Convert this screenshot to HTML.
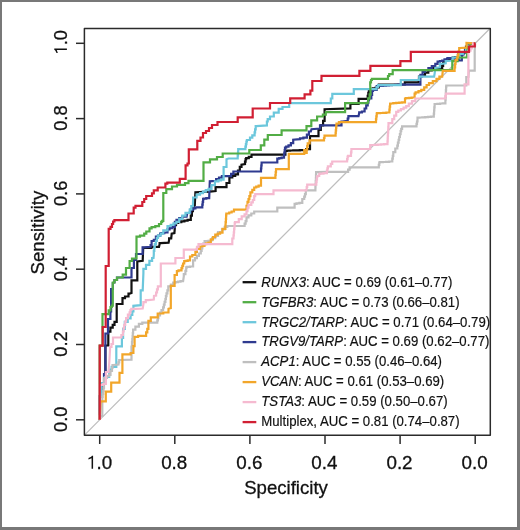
<!DOCTYPE html>
<html><head><meta charset="utf-8"><style>
html,body{margin:0;padding:0;background:#fff;}
#f{position:absolute;left:0;top:0;width:520px;height:530px;box-sizing:border-box;border-style:solid;border-color:#787878;border-width:2px 3px 3px 2px;background:#fff;}
svg{position:absolute;left:0;top:0;filter:blur(0.35px);}
.tk{font-family:"Liberation Sans",sans-serif;font-size:19px;fill:#111;stroke:#111;stroke-width:0.3px;}
.lg{font-family:"Liberation Sans",sans-serif;font-size:14.6px;fill:#111;stroke:#111;stroke-width:0.2px;}
</style></head><body><div id="f"></div>
<svg width="520" height="530" viewBox="0 0 520 530">
<line x1="84.67999999999995" y1="434.86" x2="490.21999999999997" y2="28.24000000000001" stroke="#bdbdbd" stroke-width="1.25"/>
<path d="M99.7,419.8 L99.7,396.0 L101.4,396.0 L101.4,383.0 L105.4,383.0 L105.4,345.5 L108.3,345.5 L108.3,331.7 L110.4,331.7 L110.4,327.7 L112.7,327.7 L112.7,324.8 L114.5,324.8 L114.5,321.9 L116.7,321.9 L116.7,304.0 L122.5,304.0 L122.5,300.0 L122.5,298.2 L125.0,298.2 L125.0,296.5 L128.5,296.5 L128.5,293.6 L129.6,293.6 L131.5,293.0 L131.5,280.4 L137.3,280.3 L137.3,261.4 L142.7,260.8 L143.2,247.9 L151.6,247.9 L152.2,246.8 L159.0,246.8 L159.6,244.2 L159.6,243.1 L160.6,243.1 L168.6,242.6 L169.1,239.9 L169.1,238.3 L171.2,238.3 L171.7,233.6 L174.4,233.0 L174.9,227.2 L174.9,225.1 L176.0,225.1 L176.0,223.0 L178.1,223.0 L178.1,222.2 L181.3,222.2 L181.3,221.4 L184.4,221.4 L184.4,220.6 L187.6,220.6 L187.6,219.8 L190.8,219.8 L190.8,215.6 L191.9,215.6 L191.9,214.2 L191.9,211.1 L192.9,211.1 L192.9,208.1 L193.8,208.1 L193.8,205.0 L194.8,205.0 L195.4,192.3 L209.8,191.7 L215.6,191.1 L215.6,187.1 L226.5,187.1 L226.5,183.0 L229.4,183.0 L229.4,179.6 L229.4,177.3 L232.3,177.3 L232.3,175.9 L235.2,175.9 L235.2,174.4 L238.0,174.4 L238.0,170.7 L239.8,170.7 L239.8,166.9 L241.5,166.9 L241.5,164.6 L245.0,164.0 L245.0,161.6 L245.6,161.6 L245.6,159.2 L246.2,159.2 L246.2,158.1 L248.8,158.1 L248.8,156.9 L251.5,156.9 L251.5,154.6 L253.3,154.6 L285.4,154.6 L285.4,150.8 L286.9,150.8 L286.9,150.7 L290.1,150.7 L290.1,150.5 L293.3,150.5 L293.3,150.4 L296.5,150.4 L296.5,150.3 L299.8,150.3 L299.8,150.1 L303.0,150.1 L303.0,150.0 L306.2,150.0 L306.2,149.2 L310.0,149.2 L310.0,136.2 L318.5,136.2 L318.5,130.0 L320.8,130.0 L320.8,125.4 L323.1,125.4 L323.1,120.8 L324.6,120.8 L324.6,109.2 L350.4,108.4 L350.4,104.0 L358.6,104.0 L358.6,98.8 L367.7,98.8 L367.7,95.9 L368.3,95.9 L368.3,92.9 L368.9,92.9 L368.9,90.0 L369.5,90.0 L369.5,89.2 L372.6,89.2 L372.6,88.3 L375.7,88.3 L375.7,87.5 L378.8,87.5 L378.8,84.5 L380.0,84.5 L404.8,84.5 L404.8,82.3 L418.6,82.3 L419.0,78.0 L419.0,76.5 L422.0,76.5 L422.0,75.0 L425.0,75.0 L425.0,72.7 L428.3,72.7 L428.3,70.3 L431.7,70.3 L431.7,68.0 L435.0,68.0 L442.2,68.5 L442.2,65.8 L443.1,65.8 L443.1,63.0 L444.0,63.0 L444.0,61.0 L447.0,61.0 L447.0,59.0 L450.0,59.0 L450.0,58.3 L452.7,58.3 L452.7,57.7 L455.3,57.7 L455.3,57.0 L458.0,57.0 L458.0,54.7 L461.6,54.7 L461.6,52.4 L465.3,52.4 L466.0,48.0 L466.0,46.6 L468.8,46.6 L468.8,45.0 L472.0,45.0 L472.0,43.3 L475.2,43.3" fill="none" stroke="#111111" stroke-width="2.2" stroke-linejoin="miter" stroke-linecap="butt"/>
<path d="M99.7,419.8 L99.7,396.5 L101.4,396.5 L101.4,383.5 L104.0,383.5 L104.0,374.0 L105.4,374.0 L105.4,333.5 L108.0,333.5 L108.0,319.0 L110.4,319.0 L110.4,311.5 L111.1,311.5 L111.1,291.3 L111.1,289.0 L112.8,289.0 L112.8,283.0 L114.5,282.5 L114.5,280.0 L117.0,280.0 L117.0,277.5 L123.8,277.5 L131.5,277.5 L131.5,268.0 L133.9,268.0 L133.9,260.8 L133.9,260.0 L136.0,260.0 L136.0,254.0 L142.6,254.0 L142.6,248.4 L142.6,247.3 L144.2,247.3 L150.6,246.8 L150.6,245.2 L151.6,245.2 L151.6,241.0 L153.8,241.0 L153.8,239.9 L155.9,239.9 L155.9,236.7 L158.0,236.7 L158.0,235.7 L160.1,235.7 L160.1,233.6 L161.2,233.6 L161.2,233.1 L164.3,233.1 L164.3,232.5 L167.5,232.5 L167.5,229.3 L169.6,229.3 L169.6,228.2 L172.2,228.2 L172.2,227.2 L174.9,227.2 L174.9,223.5 L174.9,221.9 L176.5,221.9 L176.5,219.8 L179.2,219.8 L179.2,218.2 L182.3,218.2 L182.3,216.6 L186.6,216.6 L187.3,213.1 L190.5,212.5 L190.5,209.6 L193.1,209.6 L193.1,208.4 L195.4,208.4 L195.4,207.3 L197.7,207.3 L202.3,207.3 L202.3,204.6 L202.7,204.6 L202.7,201.9 L203.1,201.9 L203.1,199.2 L203.5,199.2 L203.5,198.6 L206.3,198.6 L206.3,198.1 L209.2,198.1 L209.8,181.3 L216.1,180.8 L216.1,179.2 L219.0,179.2 L219.0,177.7 L221.9,177.7 L221.9,176.1 L224.8,176.1 L231.1,176.1 L231.1,173.8 L233.4,173.8 L233.4,171.5 L235.7,171.5 L261.0,171.5 L261.0,168.5 L261.3,168.5 L261.3,165.5 L261.6,165.5 L261.6,162.5 L261.9,162.5 L277.3,162.5 L277.3,158.7 L279.2,158.7 L279.2,158.2 L281.6,158.2 L281.6,157.7 L284.0,157.7 L284.0,155.1 L284.3,155.1 L284.3,152.6 L284.7,152.6 L284.7,150.0 L285.0,150.0 L285.0,147.7 L286.2,147.7 L286.2,146.6 L288.5,146.6 L288.5,145.4 L290.9,145.4 L290.9,143.1 L293.2,143.1 L293.2,139.7 L300.0,139.2 L300.0,138.4 L303.4,138.4 L303.4,137.7 L306.9,137.7 L306.9,134.6 L308.9,134.6 L308.9,131.5 L310.8,131.5 L311.5,129.2 L320.0,128.5 L320.0,125.4 L320.8,125.4 L341.5,125.4 L341.5,121.5 L342.3,121.5 L347.7,120.8 L347.7,118.5 L348.4,118.5 L348.4,116.2 L349.2,116.2 L358.5,116.2 L359.2,113.1 L359.2,112.3 L361.9,112.3 L361.9,111.5 L364.6,111.5 L364.6,108.5 L366.2,108.5 L366.2,105.4 L367.7,105.4 L367.7,102.7 L368.4,102.7 L368.4,100.0 L369.0,100.0 L369.0,98.5 L371.3,98.5 L371.3,94.8 L372.1,94.8 L372.1,91.0 L373.0,91.0 L373.0,89.8 L376.7,89.8 L376.7,86.0 L380.0,86.0 L380.0,85.8 L383.0,85.8 L383.0,85.6 L385.9,85.6 L385.9,85.4 L388.9,85.4 L388.9,85.2 L391.9,85.2 L391.9,85.0 L394.9,85.0 L394.9,84.8 L397.8,84.8 L397.8,84.6 L400.8,84.6 L420.4,84.6 L420.4,77.7 L420.4,74.8 L422.6,74.8 L422.6,72.0 L424.9,72.0 L424.9,70.1 L428.4,70.1 L428.4,68.1 L431.8,68.1 L431.8,66.2 L435.3,66.2 L435.3,63.9 L437.6,63.9 L437.6,61.6 L439.9,61.6 L439.9,61.0 L442.2,61.0 L442.2,60.5 L444.5,60.5 L444.5,59.3 L447.4,59.3 L447.4,58.1 L450.3,58.1 L455.0,58.0 L455.0,59.2 L458.4,59.2 L458.4,60.5 L461.8,60.5 L462.0,57.0 L462.0,54.5 L463.5,54.5 L463.5,52.0 L465.0,52.0 L465.0,48.0 L468.0,48.0 L468.0,45.6 L471.6,45.6 L471.6,43.3 L475.2,43.3" fill="none" stroke="#2f3a8f" stroke-width="2.2" stroke-linejoin="miter" stroke-linecap="butt"/>
<path d="M99.7,419.8 L99.7,396.0 L101.4,396.0 L101.4,383.0 L104.8,383.0 L104.8,378.0 L104.8,377.0 L109.2,377.0 L109.2,369.6 L111.6,369.6 L111.6,366.8 L116.3,366.8 L116.3,346.3 L121.9,346.3 L121.9,338.0 L123.1,338.0 L123.1,328.8 L124.8,328.8 L124.8,321.9 L127.7,321.9 L127.7,318.5 L130.6,318.5 L130.6,315.0 L132.3,315.0 L132.3,311.5 L133.4,311.5 L133.4,305.8 L140.7,305.2 L140.7,293.0 L140.7,290.4 L142.7,290.4 L143.4,273.0 L143.4,268.8 L146.0,268.8 L146.0,264.8 L149.4,264.8 L149.4,260.8 L152.1,260.8 L152.1,258.0 L153.5,258.0 L153.8,254.7 L153.8,251.0 L154.3,251.0 L154.3,247.3 L154.8,247.3 L154.8,244.1 L155.9,244.1 L155.9,241.0 L156.9,241.0 L156.9,237.8 L158.0,237.8 L158.0,235.7 L160.7,235.7 L160.7,233.6 L163.3,233.6 L163.3,230.4 L167.5,230.4 L167.5,226.2 L170.7,226.2 L170.7,224.8 L173.5,224.8 L173.5,223.3 L176.4,223.3 L176.4,221.9 L179.2,221.9 L179.2,218.8 L182.3,218.8 L182.3,215.6 L185.5,215.6 L185.5,212.9 L189.7,212.9 L189.7,209.5 L191.3,209.5 L191.3,206.1 L192.9,206.1 L193.1,200.4 L193.1,197.5 L196.6,197.5 L196.6,194.6 L200.0,194.6 L200.0,193.2 L202.9,193.2 L202.9,191.7 L205.8,191.7 L205.8,190.2 L208.6,190.2 L208.6,188.8 L211.5,188.8 L211.5,185.1 L214.9,185.1 L214.9,181.3 L218.4,181.3 L218.4,180.4 L221.0,180.4 L221.0,179.6 L223.6,179.6 L223.6,167.0 L226.5,167.0 L226.5,159.2 L228.5,158.5 L237.7,158.5 L237.7,155.4 L238.0,155.4 L238.0,152.3 L238.2,152.3 L238.2,149.2 L238.5,149.2 L245.4,149.2 L245.4,146.6 L245.9,146.6 L245.9,144.1 L246.4,144.1 L246.4,141.5 L246.9,141.5 L246.9,140.0 L250.0,140.0 L250.0,137.7 L252.3,137.7 L252.3,135.4 L254.6,135.4 L254.6,132.3 L255.1,132.3 L255.1,129.3 L255.7,129.3 L255.7,126.2 L256.2,126.2 L266.9,125.4 L266.9,121.5 L267.7,121.5 L267.7,119.2 L270.0,119.2 L270.0,116.5 L273.8,116.5 L273.8,112.7 L278.7,112.7 L278.7,108.8 L282.5,108.8 L282.5,107.0 L289.2,107.0 L289.2,103.1 L330.8,103.1 L330.8,98.5 L332.3,98.5 L332.3,93.8 L353.8,93.8 L353.8,89.2 L376.5,89.2 L376.5,87.0 L378.0,87.0 L378.0,85.2 L380.0,85.2 L400.8,85.2 L400.8,80.0 L419.2,80.0 L419.2,77.7 L419.2,76.6 L420.4,76.6 L434.1,76.6 L434.7,73.1 L435.3,68.0 L439.9,67.4 L439.9,63.9 L441.1,63.9 L445.7,63.3 L445.7,61.0 L448.0,61.0 L452.6,60.5 L452.6,57.6 L453.8,57.6 L458.4,57.0 L458.4,55.8 L459.5,55.8 L459.5,53.9 L462.8,53.9 L462.8,52.0 L466.0,52.0 L466.0,48.0 L468.0,48.0 L468.0,45.6 L471.6,45.6 L471.6,43.3 L475.2,43.3" fill="none" stroke="#6cc7dc" stroke-width="2.2" stroke-linejoin="miter" stroke-linecap="butt"/>
<path d="M99.7,419.8 L99.7,345.6 L102.5,345.6 L102.5,314.2 L106.7,314.2 L108.7,314.2 L108.7,310.4 L110.5,310.4 L110.5,307.0 L111.8,307.0 L111.8,305.6 L112.8,305.6 L112.8,282.5 L114.5,282.5 L114.5,280.0 L117.0,280.0 L117.0,277.5 L122.7,277.5 L122.7,274.6 L126.0,274.6 L126.0,268.0 L129.6,268.0 L129.6,261.0 L132.0,261.0 L132.0,258.5 L136.5,258.5 L136.5,241.0 L136.5,236.7 L140.0,236.7 L140.0,235.7 L144.2,235.7 L144.2,233.6 L146.3,233.6 L146.3,231.5 L149.5,231.5 L149.5,228.3 L151.6,228.3 L151.6,227.2 L155.3,227.2 L155.3,226.2 L159.0,226.2 L159.0,224.0 L161.2,224.0 L161.2,221.9 L162.2,221.9 L162.2,220.9 L163.3,220.9 L163.3,193.0 L166.3,193.0 L166.3,189.2 L172.0,189.2 L172.0,186.5 L177.0,186.5 L177.0,184.8 L185.0,184.8 L185.0,183.1 L188.5,183.1 L188.5,180.8 L203.5,180.8 L203.5,162.3 L210.0,162.3 L210.0,159.3 L217.0,159.3 L217.0,157.0 L222.7,157.0 L222.7,153.5 L249.3,153.5 L249.3,150.0 L260.8,150.0 L260.8,145.4 L264.3,145.4 L264.3,139.7 L267.8,139.7 L267.8,135.0 L281.6,135.0 L281.6,130.4 L306.5,130.4 L306.5,126.2 L311.3,126.2 L311.3,120.4 L317.1,120.4 L317.1,116.5 L322.9,116.5 L322.9,114.6 L325.8,114.6 L325.8,112.2 L345.1,112.2 L345.1,103.1 L367.7,103.1 L368.2,101.6 L368.2,98.3 L369.6,98.3 L369.6,94.4 L370.6,94.4 L370.2,84.6 L370.2,82.3 L371.0,82.3 L371.0,80.0 L371.9,80.0 L371.9,78.8 L373.0,78.8 L388.0,78.8 L388.0,76.0 L389.2,76.0 L389.2,74.2 L392.7,74.2 L392.7,70.2 L393.8,70.2 L452.3,70.2 L452.3,61.2 L457.7,61.2 L457.7,57.5 L467.0,57.5 L467.0,53.5 L467.6,48.9 L467.6,47.0 L470.0,47.0 L470.0,45.1 L472.6,45.1 L472.6,43.3 L475.2,43.3" fill="none" stroke="#52ad45" stroke-width="2.2" stroke-linejoin="miter" stroke-linecap="butt"/>
<path d="M99.7,419.8 L99.7,416.0 L102.3,416.0 L102.3,400.0 L102.3,397.0 L102.7,397.0 L102.7,394.0 L103.2,394.0 L103.2,391.0 L103.6,391.0 L103.6,388.0 L104.0,388.0 L104.0,380.0 L104.0,378.0 L107.0,378.0 L107.0,376.0 L109.0,376.0 L109.0,375.0 L110.5,375.0 L110.5,371.0 L112.0,371.0 L112.0,368.0 L112.5,368.0 L112.5,365.0 L113.0,365.0 L118.5,364.6 L118.5,362.3 L119.2,362.3 L119.2,360.0 L119.9,360.0 L131.5,359.6 L131.5,346.5 L132.0,345.0 L132.0,342.0 L132.3,342.0 L132.3,339.1 L132.6,339.1 L132.6,336.1 L132.8,336.1 L132.8,333.1 L133.1,333.1 L133.1,329.6 L135.4,329.6 L135.4,326.7 L138.9,326.7 L138.9,323.8 L142.3,323.8 L142.3,322.7 L145.8,322.7 L157.3,322.7 L157.3,320.4 L157.9,320.4 L157.9,318.1 L158.4,318.1 L158.4,315.4 L160.0,315.4 L160.0,312.7 L161.5,312.7 L161.5,310.0 L163.1,310.0 L163.1,307.3 L163.9,307.3 L163.9,304.6 L164.6,304.6 L164.6,301.9 L165.4,301.9 L165.4,299.0 L165.9,299.0 L165.9,296.2 L166.5,296.2 L166.5,293.3 L167.4,293.3 L167.4,290.4 L168.3,290.4 L168.3,286.3 L170.9,286.3 L170.9,284.5 L173.2,284.5 L173.2,282.7 L175.4,282.7 L175.4,282.2 L178.0,282.2 L178.0,281.7 L180.5,281.7 L180.5,281.2 L183.1,281.2 L183.8,276.5 L183.8,274.2 L185.4,274.2 L185.4,270.8 L186.2,270.8 L186.2,267.3 L186.9,267.3 L186.9,266.9 L190.0,266.9 L190.0,266.5 L193.1,266.5 L193.1,262.7 L193.1,260.4 L195.0,260.4 L195.0,258.1 L196.9,258.1 L196.9,255.8 L198.9,255.8 L198.9,253.5 L200.8,253.5 L200.8,250.9 L201.6,250.9 L201.6,248.4 L202.3,248.4 L202.3,245.8 L203.1,245.8 L203.1,243.5 L204.6,243.5 L204.6,241.2 L206.2,241.2 L212.3,240.4 L212.3,238.2 L215.2,238.2 L215.2,236.0 L218.0,236.0 L218.0,232.0 L222.0,232.0 L222.0,229.4 L224.7,229.4 L224.7,226.9 L227.3,226.9 L227.3,226.0 L229.2,226.0 L244.6,226.0 L244.6,223.6 L245.6,223.6 L245.6,221.2 L246.5,221.2 L246.5,217.3 L248.5,217.3 L248.5,215.4 L251.3,215.4 L251.3,213.5 L254.2,213.5 L254.2,211.5 L256.2,211.5 L277.3,211.5 L277.3,207.7 L279.2,207.7 L294.6,207.7 L294.6,203.8 L296.5,203.8 L296.5,203.4 L299.4,203.4 L299.4,202.9 L302.3,202.9 L302.3,199.0 L304.2,199.0 L304.2,196.6 L305.0,196.6 L305.0,194.2 L305.8,194.2 L305.8,190.4 L306.7,190.4 L315.4,190.4 L315.4,187.3 L315.5,187.3 L315.5,184.3 L315.7,184.3 L315.7,181.2 L315.9,181.2 L315.9,178.2 L316.0,178.2 L316.0,175.2 L316.1,175.2 L316.1,172.1 L316.3,172.1 L326.9,171.8 L348.1,171.8 L348.1,169.6 L349.6,169.6 L349.6,167.3 L351.0,167.3 L378.8,167.3 L378.8,164.9 L379.3,164.9 L379.3,162.5 L379.8,162.5 L379.8,162.2 L382.9,162.2 L382.9,162.0 L386.1,162.0 L386.1,161.8 L389.2,161.8 L389.2,161.5 L392.3,161.5 L392.3,158.7 L392.8,158.7 L392.8,155.8 L393.3,155.8 L393.3,152.2 L395.3,152.2 L395.3,148.5 L397.3,148.5 L397.3,145.6 L397.9,145.6 L397.9,142.7 L398.6,142.7 L398.6,139.8 L399.2,139.8 L399.2,137.0 L399.9,137.0 L399.9,134.1 L400.6,134.1 L400.6,131.2 L401.2,131.2 L401.2,128.8 L402.1,128.8 L402.1,126.3 L403.1,126.3 L416.5,126.3 L416.5,123.9 L417.0,123.9 L417.0,121.5 L417.5,121.5 L417.5,117.7 L419.4,117.7 L419.4,117.5 L422.3,117.5 L422.3,117.3 L425.2,117.3 L425.2,117.1 L428.0,117.1 L428.0,116.9 L430.9,116.9 L430.9,116.7 L433.8,116.7 L433.8,113.6 L434.1,113.6 L434.1,110.5 L434.3,110.5 L434.3,107.3 L434.6,107.3 L434.6,104.2 L434.8,104.2 L434.8,104.0 L437.4,104.0 L437.4,103.8 L440.1,103.8 L440.1,103.5 L442.8,103.5 L442.8,103.3 L445.4,103.3 L445.4,100.0 L445.6,100.0 L445.6,96.7 L445.8,96.7 L445.8,93.5 L445.9,93.5 L445.9,90.2 L446.1,90.2 L446.1,86.9 L446.3,86.9 L446.3,85.5 L449.2,85.5 L466.3,85.5 L466.3,79.2 L466.3,77.0 L468.4,77.0 L468.9,70.7 L474.7,70.7 L474.7,50.6 L475.2,43.3" fill="none" stroke="#bfbfbf" stroke-width="2.2" stroke-linejoin="miter" stroke-linecap="butt"/>
<path d="M99.7,419.8 L100.5,401.4 L105.8,401.4 L105.8,391.6 L111.2,391.6 L111.2,382.7 L119.5,382.7 L119.5,372.9 L122.4,372.9 L122.4,354.3 L130.6,354.3 L130.6,353.0 L133.4,353.0 L133.4,346.1 L134.6,346.1 L134.6,336.9 L138.1,336.9 L138.1,335.8 L146.1,335.8 L146.1,332.3 L147.3,332.3 L147.3,328.8 L148.4,328.8 L148.4,320.8 L150.8,320.8 L150.8,317.3 L157.7,317.3 L157.7,313.5 L163.3,313.5 L163.3,312.5 L168.5,312.5 L168.5,308.8 L170.8,308.1 L170.8,287.3 L170.8,285.8 L174.6,285.8 L174.6,276.5 L174.6,275.0 L176.9,275.0 L176.9,271.2 L178.5,271.2 L178.5,270.4 L181.5,270.4 L181.5,268.1 L182.3,268.1 L182.3,265.8 L183.1,265.8 L183.1,263.5 L184.2,263.5 L184.2,261.2 L185.4,261.2 L185.4,260.8 L187.7,260.8 L187.7,260.4 L190.0,260.4 L190.0,256.5 L192.3,256.5 L192.3,255.0 L195.4,255.0 L195.4,251.9 L196.9,251.9 L196.9,248.8 L200.0,248.8 L200.0,246.5 L201.5,246.5 L204.6,245.8 L204.6,244.2 L206.2,244.2 L206.2,243.4 L208.5,243.4 L208.5,242.7 L210.8,242.7 L210.8,239.4 L212.9,239.4 L212.9,237.0 L215.3,237.0 L215.3,234.6 L217.7,234.6 L217.7,233.6 L220.1,233.6 L220.1,232.7 L222.5,232.7 L222.5,228.8 L225.4,228.8 L225.4,225.5 L225.6,225.5 L225.6,222.1 L225.9,222.1 L225.9,218.8 L226.1,218.8 L226.1,215.4 L226.3,215.4 L226.3,213.5 L229.2,213.5 L229.2,212.5 L231.6,212.5 L231.6,211.5 L234.0,211.5 L234.0,209.6 L235.0,209.6 L246.5,209.6 L246.5,205.8 L247.5,205.8 L247.5,201.9 L248.5,201.9 L248.5,199.1 L249.4,199.1 L249.4,196.2 L250.4,196.2 L250.4,192.3 L252.3,192.3 L252.3,189.9 L254.2,189.9 L254.2,187.5 L256.2,187.5 L256.2,186.6 L258.6,186.6 L258.6,185.6 L261.0,185.6 L261.0,178.8 L261.0,177.9 L264.8,177.9 L275.4,177.9 L275.4,175.0 L275.7,175.0 L275.7,172.1 L276.0,172.1 L276.0,169.2 L276.3,169.2 L288.8,169.2 L288.8,153.8 L304.2,153.8 L304.2,150.0 L305.2,150.0 L305.2,152.9 L306.7,152.9 L306.7,149.6 L307.2,149.6 L307.2,146.2 L307.7,146.2 L307.7,143.3 L309.6,143.3 L309.6,140.4 L311.5,140.4 L324.0,140.4 L324.0,138.0 L324.5,138.0 L324.5,135.6 L325.0,135.6 L335.6,135.6 L335.6,132.9 L335.8,132.9 L335.8,130.3 L336.1,130.3 L336.1,127.7 L336.3,127.7 L336.3,125.0 L336.5,125.0 L336.5,123.5 L338.9,123.5 L338.9,122.1 L341.3,122.1 L376.0,122.1 L376.0,119.2 L376.3,119.2 L376.3,116.4 L376.7,116.4 L376.7,113.5 L377.0,113.5 L377.0,113.2 L380.1,113.2 L380.1,113.0 L383.2,113.0 L383.2,112.8 L386.3,112.8 L386.3,112.5 L389.4,112.5 L389.4,109.6 L389.7,109.6 L389.7,106.7 L390.1,106.7 L390.1,103.8 L390.4,103.8 L390.4,103.5 L393.3,103.5 L393.3,103.2 L396.2,103.2 L396.2,102.9 L399.2,102.9 L399.2,102.6 L402.1,102.6 L402.1,102.3 L405.0,102.3 L405.0,98.5 L406.0,98.5 L406.0,98.2 L408.9,98.2 L408.9,97.8 L411.7,97.8 L411.7,97.5 L414.6,97.5 L414.6,93.7 L415.6,93.7 L415.6,92.4 L418.5,92.4 L418.5,91.1 L421.3,91.1 L421.3,89.8 L424.2,89.8 L424.2,87.4 L426.6,87.4 L426.6,85.0 L429.0,85.0 L429.0,83.1 L432.8,83.1 L432.8,81.2 L436.5,81.2 L436.5,78.9 L439.4,78.9 L439.4,76.6 L442.2,76.6 L442.8,70.8 L454.6,70.8 L454.6,67.4 L455.1,67.4 L455.1,64.0 L455.5,64.0 L455.5,60.0 L457.0,60.0 L457.0,57.5 L457.8,57.5 L457.8,55.0 L458.5,55.0 L458.5,51.5 L459.2,51.5 L459.2,48.0 L460.0,48.0 L466.5,47.7 L466.5,43.0 L475.2,43.3" fill="none" stroke="#f2a62a" stroke-width="2.2" stroke-linejoin="miter" stroke-linecap="butt"/>
<path d="M99.7,419.8 L99.7,386.0 L99.7,385.0 L102.8,385.0 L102.8,384.0 L105.9,384.0 L105.9,376.0 L105.9,372.0 L108.5,372.0 L109.3,362.0 L110.0,350.0 L110.0,347.0 L111.5,347.0 L111.5,344.0 L113.0,344.0 L113.0,337.5 L121.4,337.5 L121.4,335.0 L122.9,335.0 L122.9,331.5 L123.6,331.5 L123.6,328.0 L124.2,328.0 L124.2,324.8 L125.2,324.8 L125.2,321.5 L126.1,321.5 L126.1,318.1 L127.9,318.1 L127.9,314.6 L129.6,314.6 L129.6,312.3 L130.4,312.3 L130.4,310.0 L131.3,310.0 L131.3,308.8 L135.4,308.8 L142.7,308.5 L143.4,304.2 L143.4,302.2 L145.8,302.2 L145.8,300.2 L148.1,300.2 L153.8,299.6 L154.0,296.0 L156.1,295.6 L156.1,292.5 L157.0,292.5 L157.0,289.4 L157.9,289.4 L157.9,286.3 L158.8,286.3 L160.8,286.3 L160.8,263.5 L175.4,263.5 L175.4,258.0 L183.8,258.0 L183.8,249.6 L197.0,249.6 L197.0,246.9 L198.5,246.9 L198.5,244.2 L200.0,244.2 L232.3,244.2 L232.3,239.6 L232.3,238.5 L233.5,238.5 L233.5,235.4 L233.8,235.4 L233.8,232.3 L234.1,232.3 L234.1,229.2 L234.4,229.2 L234.4,226.1 L234.7,226.1 L234.7,223.0 L235.0,223.0 L235.0,222.1 L238.8,222.1 L238.8,219.2 L241.7,219.2 L241.7,216.3 L244.6,216.3 L244.6,214.4 L246.5,214.4 L246.5,211.1 L247.5,211.1 L247.5,207.7 L248.5,207.7 L248.5,204.8 L251.3,204.8 L251.3,202.4 L252.8,202.4 L252.8,200.0 L254.2,200.0 L254.2,196.2 L255.2,196.2 L255.2,194.2 L258.1,194.2 L273.5,194.2 L273.5,190.4 L275.4,190.4 L306.2,190.4 L306.7,189.4 L306.7,187.0 L307.2,187.0 L307.2,184.6 L307.7,184.6 L316.3,184.6 L316.3,182.0 L316.6,182.0 L316.6,179.5 L317.0,179.5 L317.0,176.9 L317.3,176.9 L317.3,176.0 L319.2,176.0 L319.2,174.0 L320.2,174.0 L320.2,173.6 L323.5,173.6 L323.5,173.1 L326.9,173.1 L326.9,170.7 L327.4,170.7 L327.4,168.3 L327.9,168.3 L327.9,166.3 L330.8,166.3 L330.8,163.9 L332.2,163.9 L332.2,161.5 L333.7,161.5 L347.1,161.5 L347.1,159.1 L347.6,159.1 L347.6,156.7 L348.1,156.7 L348.1,155.8 L351.0,155.8 L351.0,152.4 L351.4,152.4 L351.4,149.0 L351.9,149.0 L370.2,149.0 L370.2,145.2 L371.2,145.2 L371.2,145.0 L374.5,145.0 L374.5,144.8 L377.7,144.8 L377.7,144.6 L381.0,144.6 L381.0,144.4 L384.2,144.4 L384.2,144.2 L387.5,144.2 L387.5,141.3 L387.7,141.3 L387.7,138.4 L387.8,138.4 L387.8,135.6 L388.0,135.6 L388.0,132.7 L388.2,132.7 L388.2,129.8 L388.3,129.8 L388.3,126.9 L388.5,126.9 L388.5,123.1 L392.3,123.1 L392.3,119.2 L394.2,119.2 L394.2,115.6 L396.2,115.6 L396.2,111.9 L398.3,111.9 L398.3,110.5 L400.9,110.5 L400.9,109.1 L403.6,109.1 L403.6,107.6 L406.2,107.6 L406.2,106.2 L408.8,106.2 L408.8,103.6 L412.0,103.6 L412.0,101.1 L415.3,101.1 L415.3,98.5 L418.5,98.5 L445.4,98.5 L445.4,96.1 L445.9,96.1 L445.9,93.7 L446.3,93.7 L464.6,93.7 L464.6,87.9 L464.6,84.4 L468.4,84.4 L468.4,53.8 L468.4,50.6 L470.5,50.6 L470.5,48.3 L471.8,48.3 L471.8,46.0 L473.0,46.0 L473.0,43.3 L475.2,43.3" fill="none" stroke="#f5bad0" stroke-width="2.2" stroke-linejoin="miter" stroke-linecap="butt"/>
<path d="M99.7,419.8 L99.7,345.6 L102.7,345.6 L102.7,327.0 L105.7,327.0 L105.7,266.0 L108.7,266.0 L108.7,228.8 L110.5,228.8 L110.5,226.9 L112.0,226.9 L112.0,224.0 L113.1,224.0 L113.1,221.5 L114.4,221.5 L114.4,220.2 L128.5,220.2 L128.5,213.5 L133.7,213.5 L133.7,207.7 L135.5,207.7 L135.5,205.8 L142.3,205.8 L142.3,202.0 L144.2,202.0 L144.2,199.0 L146.2,199.0 L146.2,196.0 L152.0,196.0 L152.0,193.3 L153.8,193.3 L153.8,190.4 L157.7,190.4 L157.7,187.5 L165.4,187.5 L165.4,183.7 L167.3,183.7 L167.3,182.7 L179.8,182.7 L179.8,178.8 L185.6,178.8 L185.6,165.4 L187.5,165.4 L187.5,163.5 L188.8,163.5 L188.8,149.4 L197.3,149.4 L197.3,140.8 L200.5,140.8 L200.5,137.5 L203.0,137.5 L203.0,133.0 L206.0,133.0 L206.0,131.0 L209.0,131.0 L209.0,128.0 L212.0,128.0 L212.0,125.0 L217.5,125.0 L217.5,122.0 L237.7,122.0 L237.7,117.3 L252.7,117.3 L252.7,108.5 L270.0,108.5 L270.0,103.0 L290.2,103.0 L290.2,98.3 L304.6,98.3 L304.6,94.4 L310.4,94.4 L310.4,90.6 L312.3,90.6 L312.3,81.0 L321.5,81.0 L321.5,75.8 L359.4,75.8 L359.4,70.8 L370.4,70.8 L370.4,65.8 L400.4,65.8 L400.4,61.2 L410.8,61.2 L410.8,51.9 L469.0,51.9 L469.0,46.5 L474.8,46.5 L474.8,43.3 L475.2,43.3" fill="none" stroke="#d11f33" stroke-width="2.2" stroke-linejoin="miter" stroke-linecap="butt"/>
<rect x="84.4" y="28.5" width="405.9" height="406.7" fill="none" stroke="#2b2b2b" stroke-width="1.5" stroke-linejoin="round"/>
<line x1="76" y1="419.8" x2="84.4" y2="419.8" stroke="#2b2b2b" stroke-width="1.5"/>
<line x1="475.2" y1="435.2" x2="475.2" y2="444" stroke="#2b2b2b" stroke-width="1.5"/>
<text x="474.6" y="468.8" text-anchor="middle" class="tk" style="font-size:18.8px">0.0</text>
<text transform="translate(66.9,419.3) rotate(-90)" x="0" y="0" text-anchor="middle" class="tk" style="font-size:18.2px">0.0</text>
<line x1="76" y1="344.5" x2="84.4" y2="344.5" stroke="#2b2b2b" stroke-width="1.5"/>
<line x1="400.1" y1="435.2" x2="400.1" y2="444" stroke="#2b2b2b" stroke-width="1.5"/>
<text x="399.5" y="468.8" text-anchor="middle" class="tk" style="font-size:18.8px">0.2</text>
<text transform="translate(66.9,344.0) rotate(-90)" x="0" y="0" text-anchor="middle" class="tk" style="font-size:18.2px">0.2</text>
<line x1="76" y1="269.2" x2="84.4" y2="269.2" stroke="#2b2b2b" stroke-width="1.5"/>
<line x1="325.0" y1="435.2" x2="325.0" y2="444" stroke="#2b2b2b" stroke-width="1.5"/>
<text x="324.4" y="468.8" text-anchor="middle" class="tk" style="font-size:18.8px">0.4</text>
<text transform="translate(66.9,268.7) rotate(-90)" x="0" y="0" text-anchor="middle" class="tk" style="font-size:18.2px">0.4</text>
<line x1="76" y1="193.9" x2="84.4" y2="193.9" stroke="#2b2b2b" stroke-width="1.5"/>
<line x1="249.9" y1="435.2" x2="249.9" y2="444" stroke="#2b2b2b" stroke-width="1.5"/>
<text x="249.3" y="468.8" text-anchor="middle" class="tk" style="font-size:18.8px">0.6</text>
<text transform="translate(66.9,193.4) rotate(-90)" x="0" y="0" text-anchor="middle" class="tk" style="font-size:18.2px">0.6</text>
<line x1="76" y1="118.6" x2="84.4" y2="118.6" stroke="#2b2b2b" stroke-width="1.5"/>
<line x1="174.8" y1="435.2" x2="174.8" y2="444" stroke="#2b2b2b" stroke-width="1.5"/>
<text x="174.2" y="468.8" text-anchor="middle" class="tk" style="font-size:18.8px">0.8</text>
<text transform="translate(66.9,118.1) rotate(-90)" x="0" y="0" text-anchor="middle" class="tk" style="font-size:18.2px">0.8</text>
<line x1="76" y1="43.3" x2="84.4" y2="43.3" stroke="#2b2b2b" stroke-width="1.5"/>
<line x1="99.7" y1="435.2" x2="99.7" y2="444" stroke="#2b2b2b" stroke-width="1.5"/>
<g transform="translate(99.1,468.8)"><polygon points="-7.52,0.00 -6.02,0.00 -6.02,-13.07 -7.14,-13.07 -7.90,-12.03 -10.62,-10.72 -10.62,-9.40 -7.52,-10.43" fill="#111"/><text x="-2.61" y="0" class="tk" style="font-size:18.8px">.0</text></g>
<g transform="translate(66.9,42.8) rotate(-90)"><polygon points="-7.28,0.00 -5.82,0.00 -5.82,-12.65 -6.92,-12.65 -7.64,-11.65 -10.28,-10.37 -10.28,-9.10 -7.28,-10.10" fill="#111"/><text x="-2.53" y="0" class="tk" style="font-size:18.2px">.0</text></g>
<text x="286" y="494" text-anchor="middle" class="tk" style="font-size:18.6px">Specificity</text>
<text transform="translate(44,232.6) rotate(-90)" text-anchor="middle" class="tk" style="font-size:18.6px">Sensitivity</text>
<line x1="242.6" y1="282.2" x2="256.3" y2="282.2" stroke="#111111" stroke-width="2.3"/>
<text transform="translate(261.3,286.5) scale(0.904,1)" class="lg"><tspan font-style="italic">RUNX3</tspan>: AUC = 0.69 (0.61–0.77)</text>
<line x1="242.6" y1="302.2" x2="256.3" y2="302.2" stroke="#52ad45" stroke-width="2.3"/>
<text transform="translate(261.3,306.5) scale(0.904,1)" class="lg"><tspan font-style="italic">TGFBR3</tspan>: AUC = 0.73 (0.66–0.81)</text>
<line x1="242.6" y1="322.2" x2="256.3" y2="322.2" stroke="#6cc7dc" stroke-width="2.3"/>
<text transform="translate(261.3,326.5) scale(0.904,1)" class="lg"><tspan font-style="italic">TRGC2/TARP</tspan>: AUC = 0.71 (0.64–0.79)</text>
<line x1="242.6" y1="342.1" x2="256.3" y2="342.1" stroke="#2f3a8f" stroke-width="2.3"/>
<text transform="translate(261.3,346.4) scale(0.904,1)" class="lg"><tspan font-style="italic">TRGV9/TARP</tspan>: AUC = 0.69 (0.62–0.77)</text>
<line x1="242.6" y1="362.1" x2="256.3" y2="362.1" stroke="#bfbfbf" stroke-width="2.3"/>
<text transform="translate(261.3,366.4) scale(0.904,1)" class="lg"><tspan font-style="italic">ACP1</tspan>: AUC = 0.55 (0.46–0.64)</text>
<line x1="242.6" y1="382.1" x2="256.3" y2="382.1" stroke="#f2a62a" stroke-width="2.3"/>
<text transform="translate(261.3,386.4) scale(0.904,1)" class="lg"><tspan font-style="italic">VCAN</tspan>: AUC = 0.61 (0.53–0.69)</text>
<line x1="242.6" y1="402.1" x2="256.3" y2="402.1" stroke="#f5bad0" stroke-width="2.3"/>
<text transform="translate(261.3,406.4) scale(0.904,1)" class="lg"><tspan font-style="italic">TSTA3</tspan>: AUC = 0.59 (0.50–0.67)</text>
<line x1="242.6" y1="422.1" x2="256.3" y2="422.1" stroke="#d11f33" stroke-width="2.3"/>
<text transform="translate(261.3,426.4) scale(0.904,1)" class="lg">Multiplex, AUC = 0.81 (0.74–0.87)</text>
</svg></body></html>
